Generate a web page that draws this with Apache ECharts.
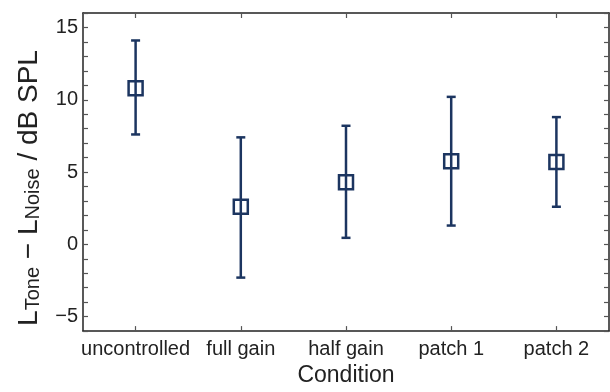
<!DOCTYPE html>
<html>
<head>
<meta charset="utf-8">
<script src="https://cdn.jsdelivr.net/npm/echarts@6/dist/echarts.min.js"></script>
<style>html,body{margin:0;padding:0;background:#fff;}#c{width:610px;height:392px;}</style>
</head>
<body>
<div id="c"></div>
<script>
const categories = ['uncontrolled', 'full gain', 'half gain', 'patch 1', 'patch 2'];
const means = [10.8, 2.6, 4.3, 5.75, 5.7];
const upper = [14.1, 7.4, 8.2, 10.2, 8.8];
const lower = [7.6, -2.3, 0.45, 1.3, 2.6];
const yMin = -6, yMax = 16;

const FONT = 'Liberation Sans, Arial, Helvetica, sans-serif';
const NAVY = '#1c3560';
const AX = '#222222';

const data = categories.map((c, i) => [i, means[i], lower[i], upper[i]]);

const chart = echarts.init(document.getElementById('c'), null, {renderer: 'canvas'});

const yCommon = {
  type: 'value', min: yMin, max: yMax, interval: 1,
  axisLine: {show: true, onZero: false, lineStyle: {color: AX, width: 1.5}},
  axisTick: {show: true, inside: true, length: 5, lineStyle: {color: '#555', width: 1.2}},
  splitLine: {show: false}
};
const xCommon = {
  type: 'category', data: categories, boundaryGap: true,
  axisLine: {show: true, onZero: false, lineStyle: {color: AX, width: 1.5}},
  axisTick: {show: true, inside: true, length: 5, alignWithLabel: true, lineStyle: {color: '#555', width: 1.2}},
  splitLine: {show: false}
};

chart.setOption({
  animation: false,
  backgroundColor: '#fff',
  grid: {left: 83, right: 1, top: 13, bottom: 49, containLabel: false},
  xAxis: [
    Object.assign({}, xCommon, {
      position: 'bottom',
      axisLabel: {show: true, color: '#222', fontFamily: FONT, fontSize: 20, margin: 8, interval: 0},
      name: 'Condition', nameLocation: 'middle', nameGap: 27,
      nameTextStyle: {color: '#222', fontFamily: FONT, fontSize: 23}
    }),
    Object.assign({}, xCommon, {position: 'top', axisLabel: {show: false}})
  ],
  yAxis: [
    Object.assign({}, yCommon, {
      position: 'left',
      axisLabel: {
        show: true, color: '#222', fontFamily: FONT, fontSize: 20, margin: 5,
        formatter: v => (v % 5 === 0 ? String(v).replace('-', '\u2212') : '')
      }
    }),
    Object.assign({}, yCommon, {position: 'right', axisLabel: {show: false}})
  ],
  graphic: [{
    type: 'text', x: 26, y: 188, rotation: Math.PI / 2,
    style: {
      text: '{m|L}{s|Tone}{m| \u2212 L}{s|Noise}{m| / dB SPL}',
      align: 'center', verticalAlign: 'middle',
      fill: '#222',
      rich: {
        m: {fontFamily: FONT, fontSize: 28, lineHeight: 34, fill: '#222', verticalAlign: 'bottom'},
        s: {fontFamily: FONT, fontSize: 20, lineHeight: 20, padding: [14, 0, 0, 0], fill: '#222', verticalAlign: 'bottom'}
      }
    }
  }],
  series: [{
    type: 'custom',
    xAxisIndex: 0, yAxisIndex: 0,
    data: data,
    renderItem: function (params, api) {
      const i = api.value(0);
      const m = api.coord([i, api.value(1)]);
      const lo = api.coord([i, api.value(2)]);
      const hi = api.coord([i, api.value(3)]);
      const cap = 4.5, half = 7;
      const ls = {stroke: NAVY, lineWidth: 2.5, fill: null};
      return {
        type: 'group',
        children: [
          {type: 'line', shape: {x1: m[0], y1: hi[1], x2: m[0], y2: lo[1]}, style: ls},
          {type: 'line', shape: {x1: m[0] - cap, y1: hi[1], x2: m[0] + cap, y2: hi[1]}, style: ls},
          {type: 'line', shape: {x1: m[0] - cap, y1: lo[1], x2: m[0] + cap, y2: lo[1]}, style: ls},
          {type: 'rect', shape: {x: m[0] - half, y: m[1] - half, width: 2 * half, height: 2 * half},
           style: {stroke: NAVY, lineWidth: 2.5, fill: 'none'}}
        ]
      };
    }
  }]
});
</script>
</body>
</html>
